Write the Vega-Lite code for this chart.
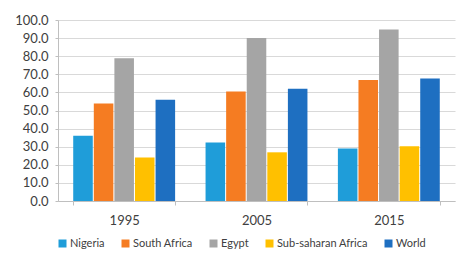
{
  "$schema": "https://vega.github.io/schema/vega-lite/v6.json",
  "autosize": {"type": "none"},
  "width": 397,
  "height": 181,
  "padding": {"left": 58, "top": 20, "right": 19, "bottom": 72},
  "background": "white",
  "data": {
    "values": [
      {"year": "1995", "region": "Nigeria", "value": 36.0},
      {"year": "1995", "region": "South Africa", "value": 53.9},
      {"year": "1995", "region": "Egypt", "value": 78.8},
      {"year": "1995", "region": "Sub-saharan Africa", "value": 24.0},
      {"year": "1995", "region": "World", "value": 55.9},
      {"year": "2005", "region": "Nigeria", "value": 32.3},
      {"year": "2005", "region": "South Africa", "value": 60.5},
      {"year": "2005", "region": "Egypt", "value": 90.0},
      {"year": "2005", "region": "Sub-saharan Africa", "value": 26.9},
      {"year": "2005", "region": "World", "value": 62.0},
      {"year": "2015", "region": "Nigeria", "value": 29.0},
      {"year": "2015", "region": "South Africa", "value": 66.8},
      {"year": "2015", "region": "Egypt", "value": 94.8},
      {"year": "2015", "region": "Sub-saharan Africa", "value": 30.2},
      {"year": "2015", "region": "World", "value": 67.7}
    ]
  },
  "mark": {"type": "bar"},
  "encoding": {
    "x": {
      "field": "year",
      "type": "nominal",
      "scale": {"paddingInner": 0.23, "paddingOuter": 0.115},
      "axis": {
        "title": null,
        "labelAngle": 0,
        "labelFont": "Lato",
        "labelFontSize": 13,
        "labelColor": "#404040",
        "labelPadding": 9,
        "tickBand": "extent",
        "tickSize": 4,
        "tickColor": "#BFBFBF",
        "domainColor": "#BFBFBF",
        "grid": false
      }
    },
    "xOffset": {
      "field": "region",
      "type": "nominal",
      "sort": ["Nigeria", "South Africa", "Egypt", "Sub-saharan Africa", "World"],
      "scale": {"paddingInner": 0.05, "paddingOuter": 0}
    },
    "y": {
      "field": "value",
      "type": "quantitative",
      "scale": {"domain": [0, 100], "nice": false},
      "axis": {
        "title": null,
        "values": [0, 10, 20, 30, 40, 50, 60, 70, 80, 90, 100],
        "format": ".1f",
        "labelFont": "Lato",
        "labelFontSize": 13,
        "labelColor": "#404040",
        "labelPadding": 7,
        "tickSize": 3,
        "tickColor": "#BFBFBF",
        "domainColor": "#BFBFBF",
        "gridColor": "#D9D9D9",
        "gridWidth": 1
      }
    },
    "color": {
      "field": "region",
      "type": "nominal",
      "sort": ["Nigeria", "South Africa", "Egypt", "Sub-saharan Africa", "World"],
      "scale": {
        "domain": ["Nigeria", "South Africa", "Egypt", "Sub-saharan Africa", "World"],
        "range": ["#1F9DD9", "#F57C22", "#A5A5A5", "#FFC000", "#1E6FC1"]
      },
      "legend": {
        "title": null,
        "orient": "none",
        "direction": "horizontal",
        "gridAlign": "none",
        "legendX": -1,
        "legendY": 218,
        "symbolType": "square",
        "symbolSize": 64,
        "symbolStrokeWidth": 0,
        "symbolOpacity": 1,
        "labelFont": "Lato",
        "labelFontSize": 11,
        "labelColor": "#404040",
        "labelOffset": 2,
        "columnPadding": 15
      }
    }
  },
  "config": {
    "view": {"stroke": null},
    "axis": {"domainWidth": 1, "tickWidth": 1}
  }
}
